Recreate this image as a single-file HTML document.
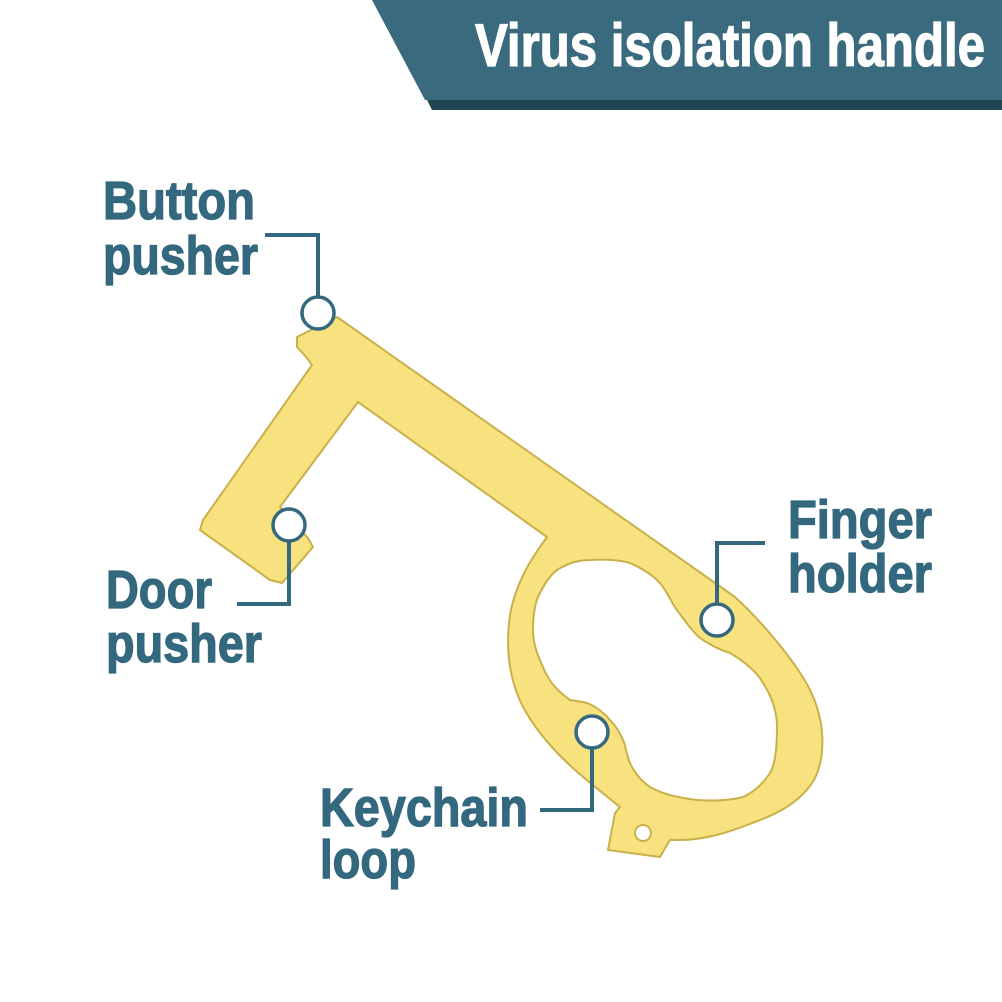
<!DOCTYPE html>
<html><head><meta charset="utf-8"><style>
html,body{margin:0;padding:0;background:#fff;}
svg{display:block}
text{font-family:"Liberation Sans Narrow","Liberation Sans",sans-serif;font-weight:bold;fill:#33687e;stroke:#33687e;stroke-width:1.3;}
</style></head><body>
<svg width="1002" height="1002" viewBox="0 0 1002 1002" xmlns="http://www.w3.org/2000/svg">
<rect width="1002" height="1002" fill="#fff"/>
<polygon points="378,0 1002,0 1002,110 432,110" fill="#1f4553"/>
<polygon points="372,0 1002,0 1002,100 425,100" fill="#3a6a7d"/>
<text x="475" y="66" font-size="60" textLength="510" lengthAdjust="spacingAndGlyphs" style="fill:#fff;stroke:#fff">Virus isolation handle</text>

<path fill="#f7e27f" stroke="#c9b04a" stroke-width="2" fill-rule="evenodd" stroke-linejoin="round" d="
M337,317 L735,597 C760,620 795,660 810,690 C825,720 826,755 815,778 C803,800 780,813 755,822 C730,832 705,840 680,840 L670,840 L660,857 L608,850 L615,813 L620,807 C605,795 590,783 575,770 C555,752 535,730 522,705 C510,680 505,650 510,615 C515,585 530,560 547,537 L358,402 L280,507 L308,538 L313,547 L282,583 L270,580 L200,530 L203,520 L312,365 L307,358 L297,347 L297,337 Z
M557,570 C570,562 580,560 590,560 C605,559 620,560 630,563 C645,570 657,578 663,587 C670,597 672,604 677,610 C688,625 695,635 703,640 C712,646 720,650 730,653 C745,662 757,672 763,683 C772,697 777,712 777,727 C777,748 775,765 770,773 C762,785 752,793 743,797 C728,801 712,801 697,800 C680,798 662,794 650,787 C640,780 634,772 630,763 C626,754 626,746 623,740 C619,731 615,725 610,720 C603,712 595,706 587,703 C580,701 575,701 570,700 C556,690 548,680 543,667 C536,652 533,642 533,630 C533,612 536,600 540,593 C545,583 550,575 557,570 Z"/>
<circle cx="643" cy="833" r="8" fill="#fff" stroke="#c9b04a" stroke-width="2"/>

<g fill="none" stroke="#33687e" stroke-width="4">
<polyline points="265,235 318,235 318,297"/>
<polyline points="237,604 289,604 289,541"/>
<polyline points="765,543 717,543 717,604"/>
<polyline points="540,810 592,810 592,748"/>
</g>
<g fill="#fff" stroke="#33687e" stroke-width="3.5">
<circle cx="318" cy="313" r="16"/>
<circle cx="289" cy="525" r="16"/>
<circle cx="717" cy="620" r="16"/>
<circle cx="592" cy="732" r="16"/>
</g>

<text x="103" y="219" font-size="54" textLength="152" lengthAdjust="spacingAndGlyphs">Button</text>
<text x="103" y="274" font-size="54" textLength="155" lengthAdjust="spacingAndGlyphs">pusher</text>
<text x="106" y="608" font-size="54" textLength="106" lengthAdjust="spacingAndGlyphs">Door</text>
<text x="106" y="662" font-size="54" textLength="156" lengthAdjust="spacingAndGlyphs">pusher</text>
<text x="788" y="538" font-size="54" textLength="144" lengthAdjust="spacingAndGlyphs">Finger</text>
<text x="788" y="592" font-size="54" textLength="144" lengthAdjust="spacingAndGlyphs">holder</text>
<text x="320" y="826" font-size="54" textLength="208" lengthAdjust="spacingAndGlyphs">Keychain</text>
<text x="320" y="878" font-size="54" textLength="96" lengthAdjust="spacingAndGlyphs">loop</text>
</svg>
</body></html>
